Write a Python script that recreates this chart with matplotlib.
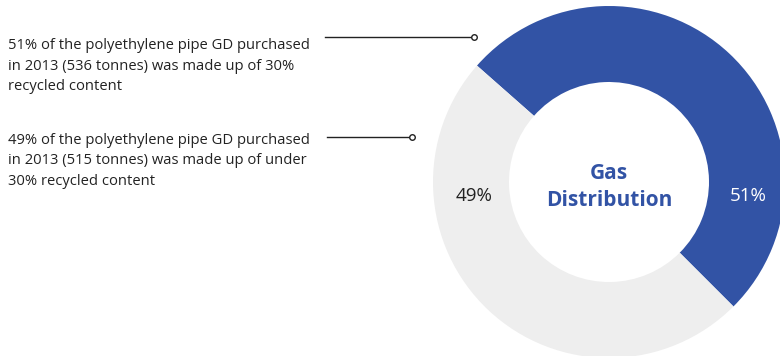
import matplotlib.pyplot as plt

# data
labels = ["30% recycled content", "under 30% recycled content"]
shares = [51, 49]
tonnes = [536, 515]
colors = ["#3253a5", "#eeeeee"]
pct_labels = ["51%", "49%"]
notes = [
    "51% of the polyethylene pipe GD purchased\nin 2013 (536 tonnes) was made up of 30%\nrecycled content",
    "49% of the polyethylene pipe GD purchased\nin 2013 (515 tonnes) was made up of under\n30% recycled content",
]

plt.rcParams['font.family'] = ['Open Sans', 'DejaVu Sans']

fig = plt.figure(figsize=(7.8, 3.56), dpi=100)
ax = fig.add_axes([0, 0, 1, 1])

H = 356
cx, cy = 609, H - 182
r_out, r_in = 176, 100

ax.pie(shares, colors=colors, startangle=138.6, counterclock=False,
       center=(cx, cy), radius=r_out,
       wedgeprops=dict(width=r_out - r_in, linewidth=0))

ax.set_xlim(0, 780)
ax.set_ylim(0, H)
ax.set_aspect('equal')
ax.axis('off')

ax.text(cx, H - 187, "Gas\nDistribution", ha='center', va='center',
        color="#3253a5", fontsize=15, fontweight='bold', linespacing=1.4)
ax.text(748, H - 196, pct_labels[0], ha='center', va='center', color='white', fontsize=13.5)
ax.text(474, H - 196, pct_labels[1], ha='center', va='center', color='#222222', fontsize=13.5)

# annotations
ax.text(8, H - 66, notes[0], ha='left', va='center', color='#222222',
        fontsize=10.6, linespacing=1.5)
ax.text(8, H - 161, notes[1], ha='left', va='center', color='#222222',
        fontsize=10.6, linespacing=1.5)

ax.plot([325, 474], [H - 37, H - 37], color='#222222', lw=1)
ax.plot([474], [H - 37], marker='o', ms=4, mfc='white', mec='#222222', mew=1)
ax.plot([327, 412], [H - 137, H - 137], color='#222222', lw=1)
ax.plot([412], [H - 137], marker='o', ms=4, mfc='white', mec='#222222', mew=1)

fig.savefig("out.png", dpi=100, facecolor='white')
